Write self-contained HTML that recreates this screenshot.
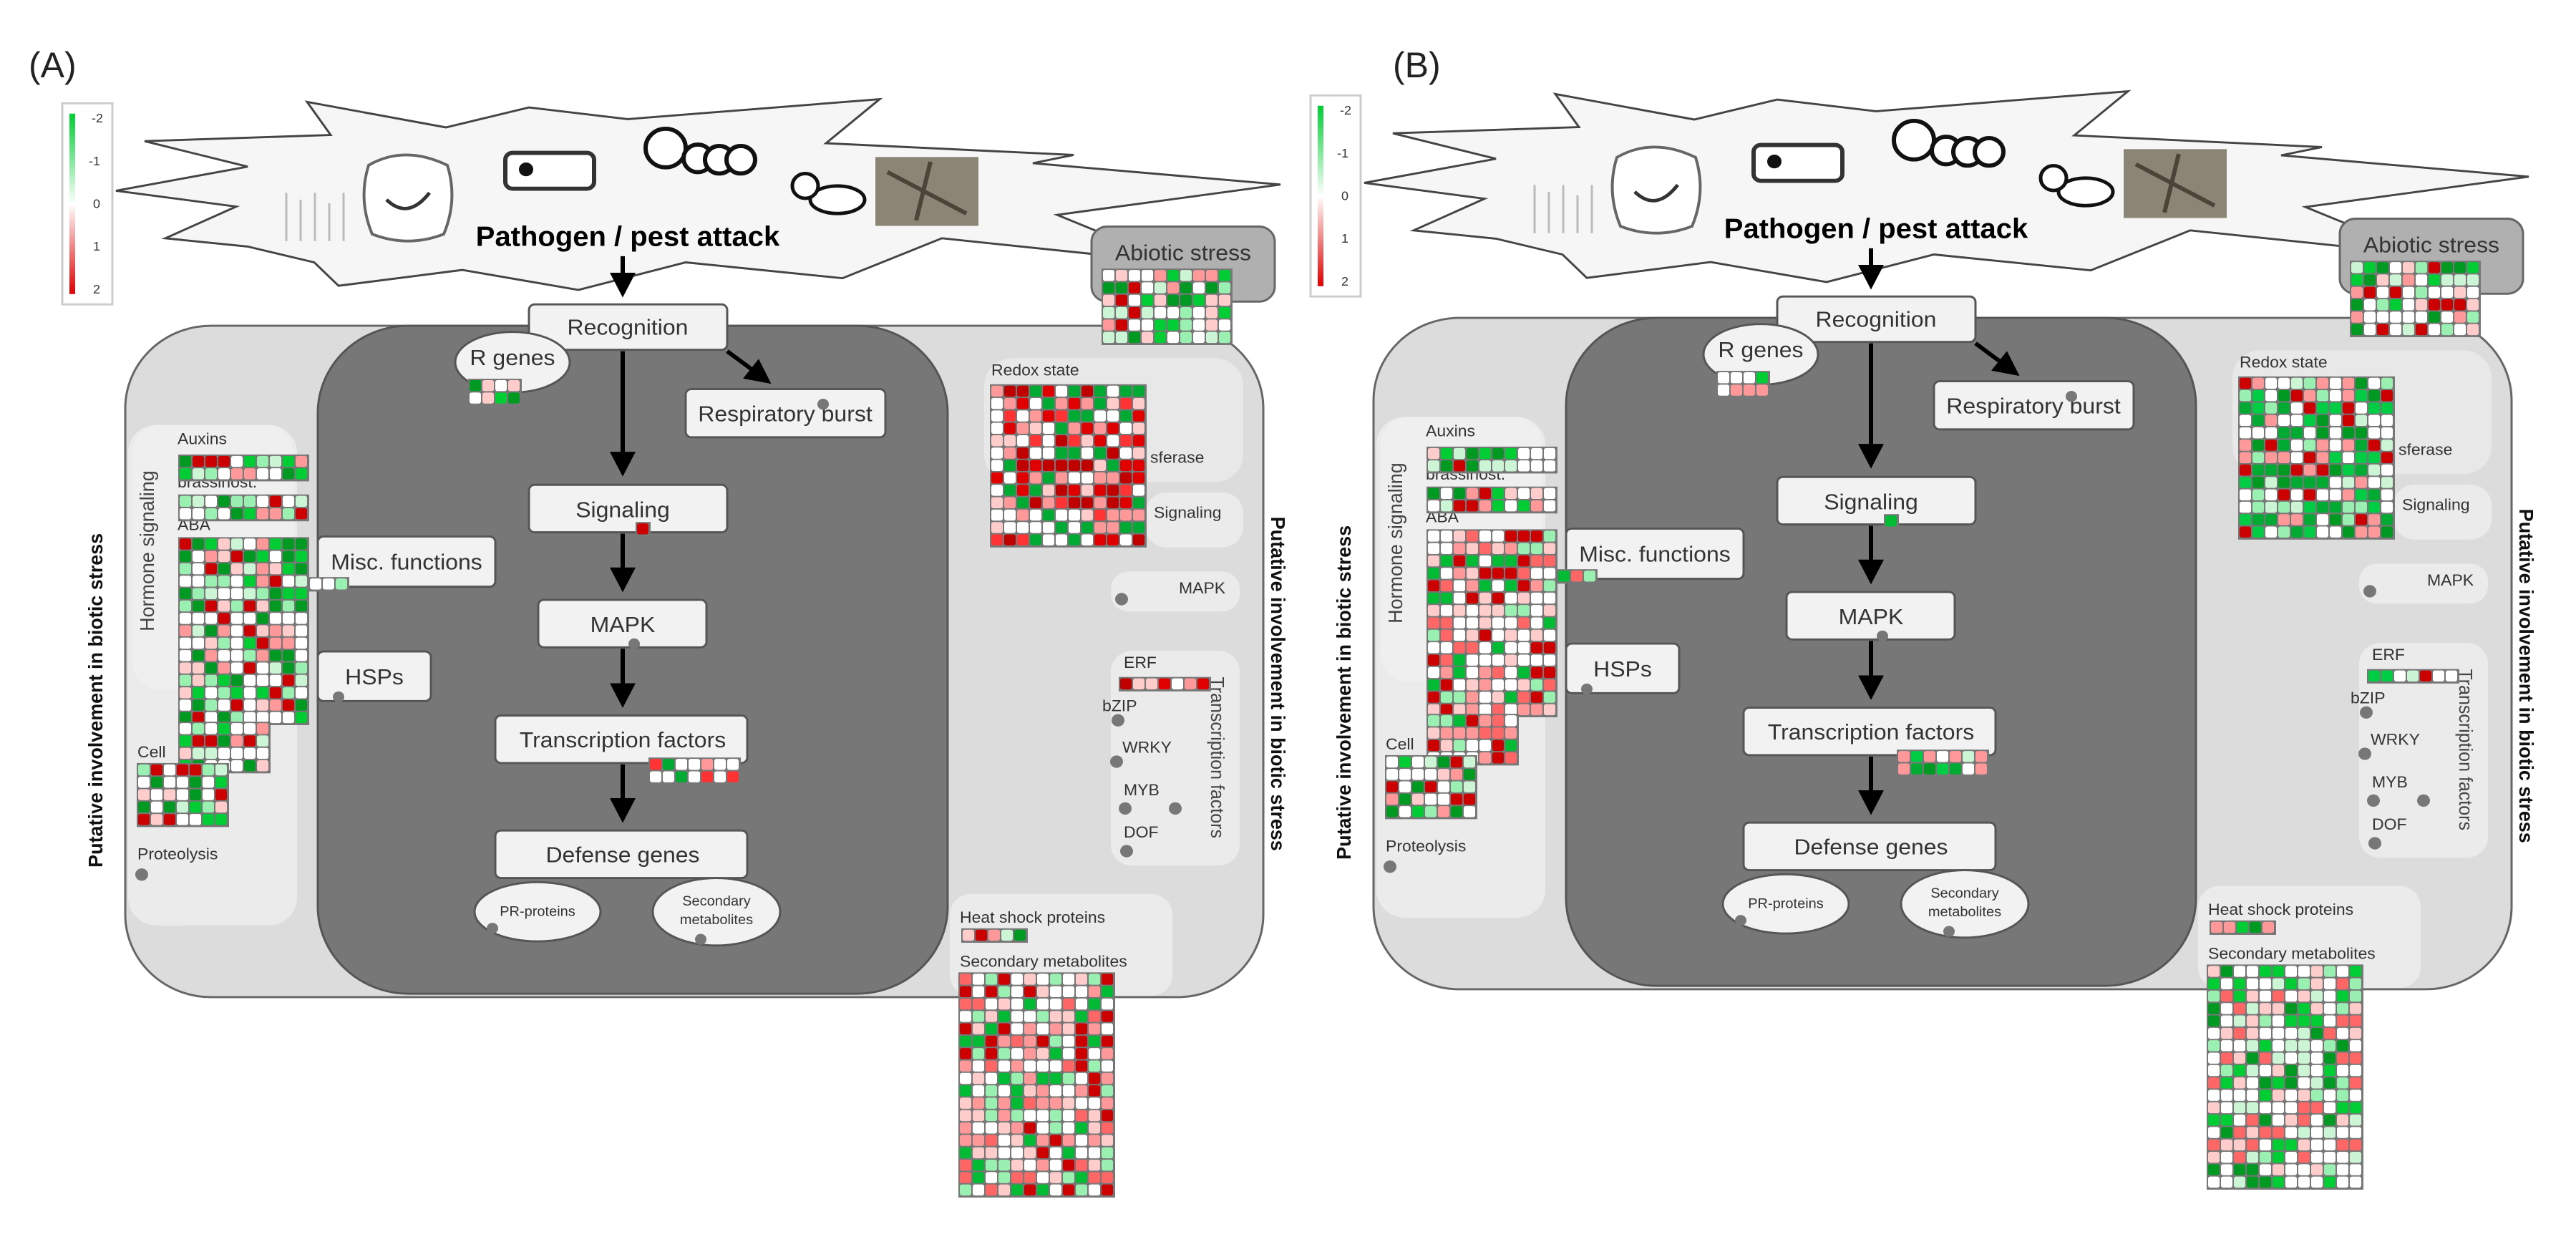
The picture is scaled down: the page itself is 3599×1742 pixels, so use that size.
<!DOCTYPE html>
<html><head><meta charset="utf-8"><style>
html,body{margin:0;padding:0;background:#fff;width:3599px;height:1742px;overflow:hidden}
svg{display:block}
text{font-family:"Liberation Sans",sans-serif;fill:#333}
.bx{fill:#f2f2f2;stroke:#555;stroke-width:3}
.lb{font-size:32px;text-anchor:middle}
.sm{font-size:23px}
</style></head><body>
<svg id="s" width="3599" height="1742" viewBox="0 0 3599 1742" xmlns="http://www.w3.org/2000/svg">
<defs><marker id="ar" markerWidth="6" markerHeight="6" refX="4" refY="3" orient="auto" markerUnits="strokeWidth"><path d="M0,0 L6,3 L0,6 z" fill="#000"/></marker>
<linearGradient id="lg" x1="0" y1="0" x2="0" y2="1"><stop offset="0" stop-color="#00cc33"/><stop offset="0.5" stop-color="#fff"/><stop offset="1" stop-color="#dd0000"/></linearGradient></defs>
<text x="40" y="108" style="font-size:50px;fill:#222">(A)</text>
<text x="1946" y="108" style="font-size:50px;fill:#222">(B)</text>
<g id="A" transform="scale(1,0.962)">
 <rect x="87" y="150" width="70" height="292" fill="#fff" stroke="#ccc" stroke-width="3"/>
 <rect x="97" y="165" width="8" height="262" fill="url(#lg)"/>
 <text x="128" y="178" class="sm" style="font-size:18px">-2</text><text x="124" y="240" class="sm" style="font-size:18px">-1</text><text x="130" y="302" class="sm" style="font-size:18px">0</text><text x="130" y="364" class="sm" style="font-size:18px">1</text><text x="130" y="426" class="sm" style="font-size:18px">2</text>
 <polygon points="162,277 346,242 202,205 462,196 429,148 623,185 739,156 877,173 1229,144 1154,208 1500,225 1443,237 1789,268 1477,312 1639,381 1316,346 1177,404 958,381 808,421 646,392 473,415 439,381 346,358 231,346 330,300" fill="#f6f6f6" stroke="#444" stroke-width="3"/>
 <g fill="none" stroke="#bbb" stroke-width="3"><path d="M400,350 v-70 M420,350 v-60 M440,350 v-70 M460,350 v-55 M480,350 v-70"/></g>
 <path d="M515,240 q50,-30 110,0 q15,50 -5,100 q-50,20 -100,0 q-20,-50 -5,-100z" fill="#fff" stroke="#666" stroke-width="4"/>
 <path d="M540,290 q30,30 60,-10" fill="none" stroke="#333" stroke-width="5"/>
 <rect x="706" y="222" width="124" height="52" rx="10" fill="#fff" stroke="#333" stroke-width="6"/><circle cx="735" cy="246" r="10" fill="#111"/>
 <g fill="#fff" stroke="#111" stroke-width="6"><circle cx="930" cy="215" r="28"/><circle cx="975" cy="230" r="20"/><circle cx="1005" cy="232" r="20"/><circle cx="1035" cy="232" r="20"/></g>
 <g fill="#fff" stroke="#111" stroke-width="5"><ellipse cx="1170" cy="290" rx="38" ry="20"/><circle cx="1125" cy="270" r="18"/></g>
 <rect x="1223" y="228" width="144" height="100" fill="#8a8574"/><path d="M1240,250 L1350,310 M1300,235 L1280,320" stroke="#4a4538" stroke-width="6"/>
 <text x="877" y="357" style="font-size:40px;font-weight:bold;fill:#000;text-anchor:middle">Pathogen / pest attack</text>
 <rect x="1525" y="329" width="256" height="109" rx="22" fill="#b0b0b0" stroke="#666" stroke-width="3"/>
 <text x="1653" y="378" style="font-size:32px;text-anchor:middle;fill:#333">Abiotic stress</text>
 <rect x="175" y="473" width="1590" height="975" rx="120" fill="#dcdcdc" stroke="#666" stroke-width="3"/>
 <rect x="179" y="617" width="236" height="727" rx="40" fill="#ebebeb"/>
 <rect x="185" y="617" width="225" height="385" rx="40" fill="#efefef"/>
 <rect x="1375" y="520" width="362" height="180" rx="40" fill="#e8e8e8"/>
 <rect x="1600" y="715" width="137" height="80" rx="30" fill="#ebebeb"/>
 <rect x="1552" y="830" width="180" height="58" rx="25" fill="#ebebeb"/>
 <rect x="1552" y="945" width="180" height="312" rx="30" fill="#ebebeb"/>
 <rect x="1327" y="1298" width="311" height="148" rx="30" fill="#ebebeb"/>
 <rect x="444" y="473" width="880" height="970" rx="127" fill="#777" stroke="#555" stroke-width="3"/>
 <text transform="translate(143,1017) rotate(-90)" style="font-size:28px;font-weight:bold;fill:#111;text-anchor:middle">Putative involvement in biotic stress</text>
 <text transform="translate(1776,993) rotate(90)" style="font-size:28px;font-weight:bold;fill:#111;text-anchor:middle">Putative involvement in biotic stress</text>
 <text transform="translate(215,800) rotate(-90)" style="font-size:28px;text-anchor:middle;fill:#444">Hormone signaling</text>
 <text transform="translate(1692,1100) rotate(90)" style="font-size:26px;text-anchor:middle;fill:#444">Transcription factors</text>
 <g stroke="#000" stroke-width="6" fill="none" marker-end="url(#ar)">
  <line x1="870" y1="372" x2="870" y2="420"/><line x1="870" y1="510" x2="870" y2="680"/><line x1="870" y1="775" x2="870" y2="848"/><line x1="870" y1="942" x2="870" y2="1016"/><line x1="870" y1="1110" x2="870" y2="1183"/><line x1="1016" y1="510" x2="1068" y2="550"/>
 </g>
 <rect class="bx" x="739" y="442" width="277" height="66" rx="8"/><text class="lb" x="877" y="486">Recognition</text>
 <ellipse cx="716" cy="526" rx="80" ry="44" fill="#f2f2f2" stroke="#555" stroke-width="3"/><text class="lb" x="716" y="530">R genes</text>
 <rect class="bx" x="958" y="565" width="279" height="70" rx="8"/><text class="lb" x="1097" y="612">Respiratory burst</text>
 <rect class="bx" x="739" y="704" width="277" height="69" rx="8"/><text class="lb" x="870" y="751">Signaling</text>
 <rect class="bx" x="752" y="871" width="235" height="69" rx="8"/><text class="lb" x="870" y="918">MAPK</text>
 <rect class="bx" x="692" y="1039" width="352" height="69" rx="8"/><text class="lb" x="870" y="1085">Transcription factors</text>
 <rect class="bx" x="692" y="1206" width="352" height="69" rx="8"/><text class="lb" x="870" y="1252">Defense genes</text>
 <ellipse cx="751" cy="1324" rx="88" ry="43" fill="#f2f2f2" stroke="#555" stroke-width="3"/><text x="751" y="1330" style="font-size:20px;text-anchor:middle">PR-proteins</text>
 <ellipse cx="1001" cy="1324" rx="89" ry="49" fill="#f2f2f2" stroke="#555" stroke-width="3"/><text x="1001" y="1315" style="font-size:20px;text-anchor:middle">Secondary</text><text x="1001" y="1342" style="font-size:20px;text-anchor:middle">metabolites</text>
 <rect class="bx" x="444" y="779" width="248" height="73" rx="8"/><text class="lb" x="568" y="827">Misc. functions</text>
 <rect class="bx" x="444" y="946" width="158" height="72" rx="8"/><text class="lb" x="523" y="994">HSPs</text>
 <g fill="#777"><circle cx="198" cy="1270" r="9"/><circle cx="1567" cy="870" r="9"/><circle cx="1562" cy="1046" r="9"/><circle cx="1560" cy="1106" r="9"/><circle cx="1572" cy="1174" r="9"/><circle cx="1642" cy="1174" r="9"/><circle cx="1574" cy="1236" r="9"/><circle cx="473" cy="1012" r="8"/><circle cx="1150" cy="587" r="8"/><circle cx="886" cy="935" r="8"/><circle cx="688" cy="1348" r="8"/><circle cx="979" cy="1364" r="8"/></g>
 <g class="sm"><text x="248" y="645" class="sm">Auxins</text><text x="248" y="708" class="sm">brassinost.</text><text x="248" y="770" class="sm">ABA</text><text x="192" y="1100" class="sm">Cell</text><text x="192" y="1248" class="sm">Proteolysis</text>
 <text x="1385" y="545" class="sm">Redox state</text><text x="1607" y="672" class="sm">sferase</text><text x="1612" y="752" class="sm">Signaling</text><text x="1647" y="862" class="sm">MAPK</text><text x="1570" y="970" class="sm">ERF</text><text x="1540" y="1033" class="sm">bZIP</text><text x="1568" y="1093" class="sm">WRKY</text><text x="1570" y="1155" class="sm">MYB</text><text x="1570" y="1216" class="sm">DOF</text>
 <text x="1341" y="1340" class="sm">Heat shock proteins</text><text x="1341" y="1404" class="sm">Secondary metabolites</text></g>
</g>
</svg>
<script>
var s=document.getElementById('s'),A=document.getElementById('A');
var B=A.cloneNode(true);B.removeAttribute('id');B.setAttribute('transform','translate(1744,-11) scale(1,0.962)');s.appendChild(B);
var seed=7;function r(){seed=(seed*16807)%2147483647;return seed/2147483647;}
var P={red:['#c00000','#e00000','#ff3333','#ff9999','#ffcccc','#fff','#fff','#00aa33'],
pink:['#fff','#fff','#fff','#ffcccc','#ff9999','#ff6666','#cc0000','#99f0b0','#00bb33'],
mix:['#fff','#fff','#fff','#ccf5d5','#99f0b0','#00cc33','#009922','#ff9999','#cc0000','#ffcccc'],
green:['#00aa33','#00cc44','#009922','#99f0b0','#ccf5d5','#fff','#fff','#ff9999','#cc0000'],
gw:['#fff','#fff','#fff','#ccf5d5','#99f0b0','#00cc33','#009922','#ffcccc','#ff6666'],
R:['#cc0000'],G:['#00bb33']};
function hm(g,x,y,c,rw,p){var pal=P[p],ns='http://www.w3.org/2000/svg';var b=document.createElementNS(ns,'rect');
b.setAttribute('x',x-2);b.setAttribute('y',y-2);b.setAttribute('width',c*18+3);b.setAttribute('height',rw*18+3);b.setAttribute('fill','#777');g.appendChild(b);
for(var i=0;i<rw;i++)for(var j=0;j<c;j++){var e=document.createElementNS(ns,'rect');e.setAttribute('x',x+j*18);e.setAttribute('y',y+i*18);e.setAttribute('width',16);e.setAttribute('height',16);e.setAttribute('rx',3);e.setAttribute('fill',pal[Math.floor(r()*pal.length)]);g.appendChild(e);}}
var L=[[1541,392,10,6,'mix','mix'],[656,552,4,2,'mix','mix'],[1385,560,12,13,'red','green'],[890,760,1,1,'R','G'],[908,1102,7,2,'red','green'],
[251,662,10,2,'mix','mix'],[251,720,10,2,'mix','mix'],[251,782,10,15,'mix','pink'],[251,1050,7,4,'mix','pink'],[193,1110,7,5,'mix','mix'],[433,840,3,1,'mix','pink'],
[1345,1350,5,1,'mix','mix'],[1341,1414,12,18,'pink','gw'],[1565,985,7,1,'red','green']];
L.forEach(function(h){hm(A,h[0],h[1],h[2],h[3],h[4]);hm(B,h[0],h[1],h[2],h[3],h[5]);});
</script>
</body></html>
